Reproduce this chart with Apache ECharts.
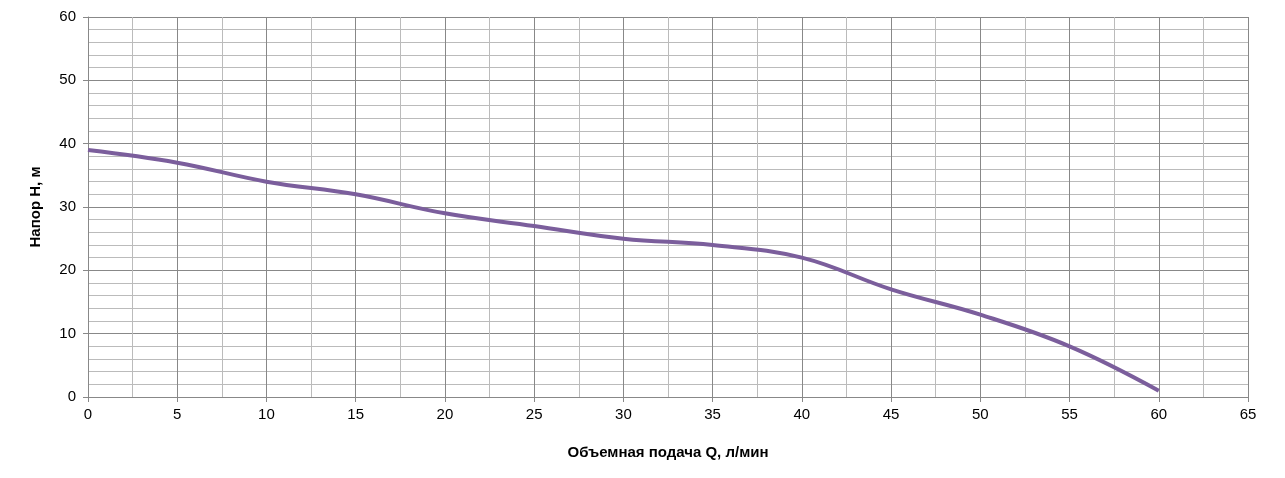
<!DOCTYPE html><html><head><meta charset="utf-8"><script src="https://cdn.jsdelivr.net/npm/echarts@6/dist/echarts.min.js"></script></head><body style="margin:0"><div id="c" style="width:1285px;height:478px"></div><script>
const qValues=[0,5,10,15,20,25,30,35,40,45,50,55,60];
const hValues=[39,37,34,32,29,27,25,24,22,17,13,8,1];
const xTitle='Объемная подача Q, л/мин';
const yTitle='Напор H, м';
const ch=echarts.init(document.getElementById('c'));
const ax={color:'#000',fontSize:15,fontFamily:'Liberation Sans, Arial'};
ch.setOption({animation:false,
grid:{left:88,right:37,top:17,bottom:81},
xAxis:{type:'value',min:0,max:65,interval:5,name:xTitle,nameLocation:'middle',nameGap:48,
 nameTextStyle:{fontWeight:'bold',fontSize:15,color:'#000',fontFamily:'Liberation Sans, Arial'},
 axisLabel:Object.assign({margin:10},ax),axisLine:{lineStyle:{color:'#888'}},axisTick:{show:true,length:5,lineStyle:{color:'#888'}},
 splitLine:{lineStyle:{color:'#888'}},minorTick:{show:false,splitNumber:2},minorSplitLine:{show:true,lineStyle:{color:'#bbb'}}},
yAxis:{type:'value',min:0,max:60,interval:10,name:yTitle,nameLocation:'middle',nameGap:45,
 nameTextStyle:{fontWeight:'bold',fontSize:15,color:'#000',fontFamily:'Liberation Sans, Arial'},
 axisLabel:Object.assign({margin:12},ax),axisLine:{show:true,lineStyle:{color:'#888'}},axisTick:{show:true,length:5,lineStyle:{color:'#888'}},
 splitLine:{lineStyle:{color:'#888'}},minorTick:{show:false,splitNumber:5},minorSplitLine:{show:true,lineStyle:{color:'#bbb'}}},
series:[{type:'line',data:qValues.map((q,i)=>[q,hValues[i]]),smooth:0.4,showSymbol:false,
 lineStyle:{color:'#7b5e9c',width:4}}]});
</script></body></html>
